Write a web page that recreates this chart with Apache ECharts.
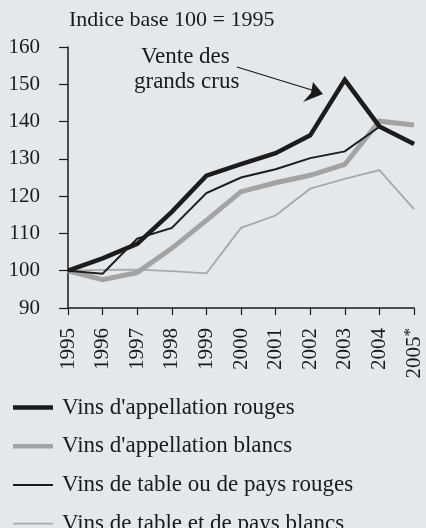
<!DOCTYPE html>
<html>
<head>
<meta charset="utf-8">
<script src="https://cdn.jsdelivr.net/npm/echarts@6/dist/echarts.min.js"></script>
<style>
  html, body { margin: 0; padding: 0; background: #e6e7e9; }
  #chart { width: 426px; height: 528px; }
</style>
</head>
<body>
<div id="chart"></div>
<script>
// indice base 100 = 1995
var years = ['1995', '1996', '1997', '1998', '1999', '2000', '2001', '2002', '2003', '2004', '2005*'];
var appRouges = [100, 103.3, 107.2, 115.8, 125.5, 128.6, 131.5, 136.3, 151.2, 138.7, 134.0];
var appBlancs = [100, 97.6, 99.5, 106.0, 113.5, 121.2, 123.6, 125.6, 128.5, 140.1, 139.1];
var tableRouges = [100, 99.2, 108.6, 111.5, 120.8, 125.0, 127.2, 130.2, 132.0, 138.6, 134.0];
var tableBlancs = [100, 100.2, 100.3, 99.9, 99.3, 111.5, 114.8, 122.0, 124.6, 127.0, 116.5];
var yTicks = [90, 100, 110, 120, 130, 140, 150, 160];

var serif = 'Liberation Serif';
var chart = echarts.init(document.getElementById('chart'));

var names = ["Vins d'appellation rouges", "Vins d'appellation blancs",
             'Vins de table ou de pays rouges', 'Vins de table et de pays blancs'];
var colors = ['#1c1c1c', '#a3a3a3', '#1c1c1c', '#a9a9a9'];
var widths = [4.5, 5, 2, 1.8];

// legend icon: a bar of the given thickness inside a 40x20 box
function barIcon(w) {
  var y = 10 - w / 2;
  return 'path://M0,0h0.01v0.01h-0.01z M39.99,19.99h0.01v0.01h-0.01z M0,' + y + 'h40v' + w + 'h-40z';
}

function line(i, data, z) {
  return {
    name: names[i],
    type: 'line',
    data: data,
    symbol: 'none',
    z: z,
    lineStyle: { color: colors[i], width: widths[i], join: 'miter' },
    itemStyle: { color: colors[i] }
  };
}

// one legend per row, rows 39px apart
var legends = names.map(function (n, i) {
  return {
    left: 13, top: 396 + i * 38.7,
    padding: 0,
    itemWidth: 40, itemHeight: 20,
    textStyle: { fontFamily: serif, fontSize: 23, color: '#1a1a1a', padding: [0, 0, 0, 4] },
    data: [{ name: n, icon: barIcon(Math.min(widths[i], 4.5)), itemStyle: { color: colors[i] } }]
  };
});

chart.setOption({
  backgroundColor: '#e6e7e9',
  animation: false,
  textStyle: { fontFamily: serif, color: '#1a1a1a' },
  title: {
    text: 'Indice base 100 = 1995',
    left: 69, top: 9, padding: 0,
    textStyle: { fontFamily: serif, fontSize: 22, fontWeight: 'normal', color: '#1a1a1a' }
  },
  grid: { left: 68, right: 12, top: 47, bottom: 220 },
  xAxis: {
    type: 'category',
    data: years,
    boundaryGap: false,
    axisLine: { lineStyle: { color: '#1a1a1a', width: 1.5 } },
    axisTick: { length: 7, lineStyle: { color: '#1a1a1a', width: 1.2 } },
    axisLabel: {
      rotate: 90, margin: 20, fontSize: 21, color: '#1a1a1a', fontFamily: serif,
      formatter: function (v) {
        return v.indexOf('*') > 0 ? v.replace('*', '') + '{s|*}' : v;
      },
      rich: { s: { fontSize: 17, fontFamily: serif, color: '#1a1a1a', verticalAlign: 'top', padding: [0, 0, 6, 0] } }
    },
    splitLine: { show: false }
  },
  yAxis: {
    type: 'value',
    min: yTicks[0], max: yTicks[yTicks.length - 1], interval: 10,
    axisLine: { show: true, lineStyle: { color: '#1a1a1a', width: 1.5 } },
    axisTick: { show: true, length: 9, lineStyle: { color: '#1a1a1a', width: 1.2 } },
    axisLabel: { margin: 28, fontSize: 21, color: '#1a1a1a', fontFamily: serif },
    splitLine: { show: false }
  },
  legend: legends,
  series: [
    line(0, appRouges, 5),
    line(1, appBlancs, 3),
    line(2, tableRouges, 4),
    line(3, tableBlancs, 2)
  ],
  graphic: [
    {
      type: 'text', left: 141, top: 45,
      style: { text: 'Vente des', font: '23px "Liberation Serif"', fill: '#1a1a1a' }
    },
    {
      type: 'text', left: 134, top: 70,
      style: { text: 'grands crus', font: '23px "Liberation Serif"', fill: '#1a1a1a' }
    },
    {
      type: 'line',
      shape: { x1: 237, y1: 67, x2: 315, y2: 91 },
      style: { stroke: '#1a1a1a', lineWidth: 1.2 }
    },
    {
      type: 'polygon',
      shape: { points: [[313, 82], [323, 94], [303, 102], [311, 93]] },
      style: { fill: '#1a1a1a' }
    }
  ]
});
</script>
</body>
</html>
